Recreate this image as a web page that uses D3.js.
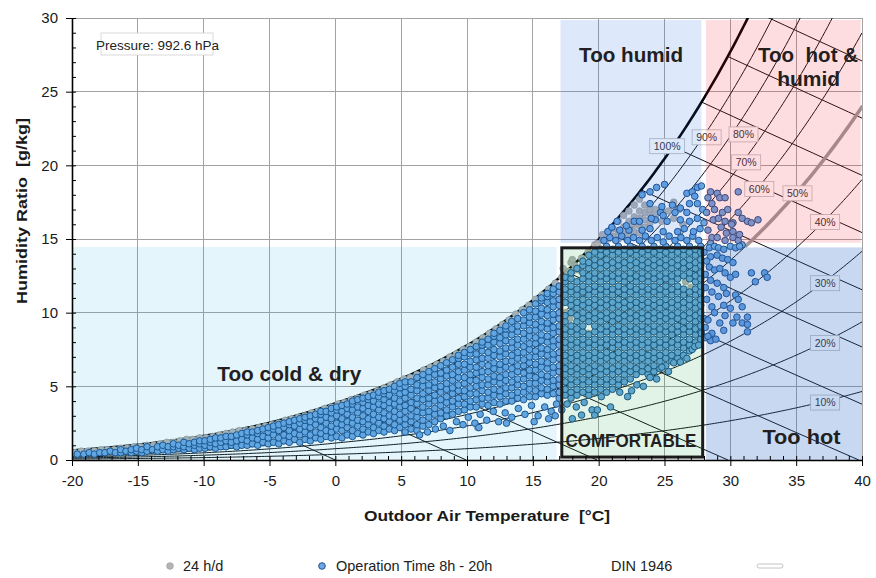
<!DOCTYPE html>
<html>
<head>
<meta charset="utf-8">
<title>Outdoor air conditions – psychrometric chart</title>
<script src="https://cdn.jsdelivr.net/npm/d3@7/dist/d3.min.js"></script>
<style>
  html, body { margin: 0; padding: 0; background: #fff; }
  svg text { font-family: "Liberation Sans", Arial, sans-serif; }
</style>
</head>
<body>
<svg id="chart" width="876" height="578"></svg>
<script>
// ---------------- chart values ----------------
const pressureHPa = 992.6;
const tempTicks = [-20, -15, -10, -5, 0, 5, 10, 15, 20, 25, 30, 35, 40];
const humidityTicks = [0, 5, 10, 15, 20, 25, 30];
const rhLevels = [10, 20, 30, 40, 50, 60, 70, 80, 90, 100];
const enthalpyLevels = [0, 10, 20, 30, 40, 50, 60, 70, 80, 90, 100, 110]; // kJ/kg
// relative-humidity tags: [RH %, temperature °C, humidity ratio g/kg]
const rhTags = [[100, 25.2, 21.3], [90, 28.2, 21.9], [80, 31.0, 22.1], [70, 31.2, 20.2], [60, 32.2, 18.4],
                [50, 35.1, 18.1], [40, 37.2, 16.15], [30, 37.2, 12.0], [20, 37.2, 7.95], [10, 37.2, 3.9]];
// comfort classification fields (°C, g/kg)
const zones = [
  { key: "cold",     t0: -20,   t1: 16.8, w0: 0,     w1: 14.46 },
  { key: "comfort",  t0: 17.2,  t1: 27.9, w0: 0.2,   w1: 14.4 },
  { key: "humid",    t0: 17.1,  t1: 27.8, w0: 14.75, w1: 29.86 },
  { key: "hotHumid", t0: 28.15, t1: 39.9, w0: 14.75, w1: 29.86 },
  { key: "hot",      t0: 28.15, t1: 40,   w0: 0,     w1: 14.43 }
];
const zoneLabels = [
  { text: "Too humid",        t: 22.46, w: 27.0 },
  { text: "Too\u00a0 hot &",  t: 35.9,  w: 27.0 },
  { text: "humid",            t: 35.95, w: 25.4 },
  { text: "Too cold & dry",   t: -3.5,  w: 5.36 },
  { text: "COMFORTABLE",      t: 22.45, w: 0.9 },
  { text: "Too hot",          t: 35.4,  w: 1.1 }
];

// hourly readings, 24 h/d  — rows: [temperature °C, humidity ratio g/kg, ...]
const allHoursEdge = [
  [-19.8,0.5],[-19.3,0.6],[-18.8,0.6],[-18.3,0.6],[-17.8,0.7],[-17.3,0.7],[-16.8,0.7],[-16.3,0.8],[-15.8,0.8],[-15.3,0.9],
  [-14.8,0.9],[-14.3,1.0],[-13.8,1.0],[-13.3,1.1],[-12.8,1.2],[-12.3,1.2],[-11.8,1.3],[-11.3,1.4],[-10.8,1.4],[-10.3,1.5],
  [-9.8,1.5],[-9.3,1.6],[-8.8,1.7],[-8.3,1.8],[-7.8,1.9],[-7.3,2.0],[-6.8,2.0],[-6.3,2.1],[-5.8,2.2],[-5.3,2.3],
  [-4.8,2.4],[-4.3,2.5],[-3.8,2.7],[-3.3,2.8],[-2.8,2.9],[-2.3,3.0],[-1.8,3.2],[-1.3,3.3],[-0.8,3.5],[-0.3,3.6],
  [0.2,3.8],[0.7,3.9],[1.2,4.1],[1.7,4.2],[2.2,4.4],[2.7,4.5],[3.2,4.7],[3.7,4.9],[4.2,5.1],[4.7,5.3],
  [5.2,5.5],[5.7,5.6],[6.2,5.8],[6.7,6.1],[7.2,6.3],[7.7,6.5],[8.2,6.7],[8.7,7.0],[9.2,7.2],[9.7,7.5],
  [10.2,7.7],[10.7,8.0],[11.2,8.3],[11.7,8.6],[12.2,8.9],[12.7,9.2],[13.2,9.5],[13.7,9.9],[14.2,10.2],[14.7,10.5],
  [15.2,10.9],[15.7,11.2],[16.2,11.6],[16.7,12.0],[17.2,12.4],[17.7,12.8],[18.2,13.2],[18.7,13.7],[19.2,14.1],[19.7,14.6],
  [10.5,7.5],[11.5,8.1],[12.5,8.7],[13.5,9.4],[14.5,10.0],[15.5,10.7],[16.5,11.4],[17.5,12.1],[18.5,12.9],[19.4,13.6]
];
const allHoursWarm = [
  [19.9,14.7],[20.3,14.9,15.3],[20.7,15.0,15.5],[21.1,15.2,15.7],[21.5,15.0,15.5,16.2],[21.9,15.3,15.8,16.6],
  [22.3,15.2,15.7,16.2,16.9],[22.7,15.5,16.0,16.5,17.3],[23.1,15.4,15.9,16.4,16.9,17.7],[23.5,15.8,16.3,16.8,17.3],
  [23.9,16.1,16.7,17.0],[24.3,16.5,17.0],[24.8,16.2],[25.3,16.9],[25.7,16.4,17.5],[26.1,17.0],[26.4,16.0]
];
const allHoursInner = [
  [17.3,13.0],[17.6,12.6],[17.9,13.4],[18.2,12.9],[18.0,13.6],[17.5,10.0],[17.8,9.6],[18.1,10.3],[19.2,8.6],[17.4,8.8],
  [18.6,11.2],[19.0,12.4],[20.5,10.6],[21.4,9.4],[22.6,12.5],[23.8,8.8],[19.8,6.1],[22.1,7.0],[25.3,11.9],[24.6,13.2],
  [26.4,9.8],[26.6,12.1],[27.0,11.7],[10.8,2.2],[1.1,1.8],[13.6,7.3],[12.2,5.9],[15.2,8.9],[8.5,4.7],[16.2,9.9],
  [4.6,3.6],[-2.6,2.1],[-8.2,1.2],[9.3,6.3],[14.9,10.0],[16.6,11.0],[11.8,7.6]
];

// hourly readings, operation time 8h - 20h
const opHoursFrost = [
  [-19.6,0.4],[-19.1,0.4],[-18.7,0.5],[-18.3,0.4],[-17.9,0.5],[-17.5,0.5],[-17.1,0.6],[-16.7,0.5],[-16.3,0.5,0.7],[-15.9,0.6],
  [-15.5,0.5,0.7],[-15.1,0.6,0.8],[-14.7,0.5,0.7],[-14.3,0.6,0.9],[-13.9,0.7],[-13.5,0.6,0.9],[-13.1,0.7,1.0],[-12.7,0.6,0.9],
  [-12.3,0.7,0.9,1.1],[-11.9,0.8,1.0],[-11.5,0.7,0.9,1.2],[-11.1,0.8,1.1],[-10.7,0.7,1.0,1.2],[-10.3,0.8,1.1,1.3],
  [-9.9,0.8,1.0,1.3],[-9.5,0.9,1.2,1.4],[-9.1,0.8,1.1,1.5],[-8.7,0.9,1.2,1.5],[-8.3,0.9,1.3,1.6],[-7.9,1.0,1.2,1.6],
  [-7.5,0.9,1.3,1.7],[-7.1,1.0,1.4,1.8],[-6.7,1.0,1.3,1.7,1.9],[-6.3,1.1,1.5,1.9],[-5.9,1.0,1.4,1.8,2.0],[-5.5,1.2,1.6,2.1],
  [-5.1,1.1,1.5,1.9,2.2]
];
const opHoursCool = [
  [-4.7,1.2,1.7,2.1,2.3],[-4.3,1.1,1.5,2.0,2.4],[-3.9,1.3,1.7,2.2,2.5],[-3.5,1.2,1.6,2.0,2.4,2.6],[-3.1,1.4,1.8,2.3,2.7],
  [-2.7,1.2,1.7,2.1,2.5,2.8],[-2.3,1.4,1.9,2.3,2.7,2.9],[-1.9,1.3,1.7,2.2,2.6,3.0],[-1.5,1.5,1.9,2.4,2.8,3.1],
  [-1.1,1.4,1.8,2.2,2.7,3.1,3.3],[-0.7,1.6,2.0,2.5,2.9,3.3],[-0.3,1.5,1.9,2.3,2.8,3.2,3.5],[0.1,1.6,2.1,2.5,3.0,3.4,3.6],
  [0.5,1.5,2.0,2.4,2.8,3.3,3.7],[0.9,1.7,2.2,2.6,3.1,3.5,3.8],[1.3,1.6,2.0,2.5,2.9,3.4,3.8,4.0],[1.7,1.8,2.3,2.7,3.2,3.6,4.1],
  [2.1,1.7,2.1,2.6,3.0,3.5,3.9,4.2],[2.5,1.9,2.4,2.8,3.3,3.7,4.1,4.3],[2.9,1.8,2.2,2.7,3.1,3.6,4.0,4.4],
  [3.3,2.0,2.5,2.9,3.4,3.8,4.3,4.6],[3.7,1.9,2.3,2.8,3.2,3.7,4.1,4.5,4.7],[4.1,2.1,2.6,3.0,3.5,3.9,4.4,4.8],
  [4.5,2.0,2.4,2.9,3.3,3.8,4.2,4.7,5.0],[4.9,2.2,2.7,3.1,3.6,4.0,4.5,4.9,5.2]
];
const opHoursMild = [
  [5.3,1.9,2.4,2.8,3.3,3.7,4.2,4.6,5.0,5.3],[5.75,2.1,2.6,3.0,3.5,3.9,4.4,4.8,5.3],[6.2,2.0,2.4,2.9,3.3,3.8,4.2,4.7,5.1,5.6],
  [6.65,2.3,2.7,3.2,3.6,4.1,4.5,5.0,5.4,5.8],[7.1,2.4,2.9,3.3,3.8,4.2,4.7,5.1,5.6,6.0],[7.55,2.6,3.1,3.5,4.0,4.4,4.9,5.3,5.8,6.2],
  [8.0,2.8,3.2,3.7,4.1,4.6,5.0,5.5,5.9,6.4],[8.45,3.0,3.4,3.9,4.3,4.8,5.2,5.7,6.1,6.6],[8.9,3.1,3.6,4.0,4.5,4.9,5.4,5.8,6.3,6.8],
  [9.35,3.3,3.8,4.2,4.7,5.1,5.6,6.0,6.5,6.9,7.1],[9.8,3.4,3.8,4.3,4.7,5.2,5.6,6.1,6.5,7.0,7.3],
  [10.25,3.6,4.0,4.5,4.9,5.4,5.8,6.3,6.7,7.2,7.5],[10.7,3.6,4.1,4.5,5.0,5.4,5.9,6.3,6.8,7.2,7.7],
  [11.15,3.8,4.2,4.7,5.1,5.6,6.0,6.5,6.9,7.4,7.8,8.0],[11.6,3.7,4.2,4.6,5.1,5.5,6.0,6.4,6.9,7.3,7.8,8.2],
  [12.05,3.9,4.4,4.8,5.3,5.7,6.2,6.6,7.1,7.5,8.0,8.4,8.6],[12.5,3.8,4.3,4.7,5.2,5.6,6.1,6.5,7.0,7.4,7.9,8.3,8.8],
  [12.95,4.0,4.5,4.9,5.4,5.8,6.3,6.7,7.2,7.6,8.1,8.5,8.9,9.1],[13.4,4.0,4.4,4.9,5.3,5.8,6.2,6.7,7.1,7.6,8.0,8.5,8.9,9.4],
  [13.85,4.2,4.6,5.1,5.5,6.0,6.4,6.9,7.3,7.8,8.2,8.7,9.1,9.6],[14.3,4.1,4.6,5.0,5.5,5.9,6.4,6.8,7.3,7.7,8.2,8.6,9.1,9.5,10.0],
  [14.75,4.3,4.8,5.2,5.7,6.1,6.6,7.0,7.5,7.9,8.4,8.8,9.3,9.7,10.2],
  [15.2,4.3,4.7,5.2,5.6,6.1,6.5,7.0,7.4,7.9,8.3,8.8,9.2,9.7,10.1,10.6],
  [15.65,4.5,4.9,5.4,5.8,6.3,6.7,7.2,7.6,8.1,8.5,9.0,9.4,9.9,10.3,10.8,11.0],
  [16.1,4.4,4.8,5.3,5.7,6.2,6.6,7.1,7.5,8.0,8.4,8.9,9.3,9.8,10.2,10.7,11.1,11.3],
  [16.55,4.5,5.0,5.4,5.9,6.3,6.8,7.2,7.7,8.1,8.6,9.0,9.5,9.9,10.4,10.8,11.3,11.6]
];
const opHoursMildLow = [
  [6.4,1.7],[7.0,1.9],[7.6,2.1],[8.2,2.3],[8.7,2.0],[9.2,2.6],[9.7,2.4],[10.1,2.9],[10.6,2.5],[11.0,3.1],[11.5,2.7],
  [12.0,3.3],[12.4,2.6],[12.9,3.2],[13.4,2.9],[13.9,3.5],[14.4,3.1],[14.9,3.7],[15.4,3.0],[15.9,3.6],[16.4,3.3],
  [16.8,3.8],[10.9,2.2],[13.0,2.5],[15.1,2.6],[16.2,2.8],[16.7,3.0]
];
const opHoursComfort = [
  [17.0,4.2,4.6,5.1,5.5,6.0,6.4,6.9,7.3,7.8,8.2,8.7,9.1,9.6,10.0,10.5,10.9,11.4,11.8],
  [17.45,4.4,4.8,5.3,5.8,6.2,6.7,7.1,7.6,8.0,8.5,8.9,9.4,9.8,10.7,11.2,11.6,12.1,12.4],
  [17.9,4.2,4.6,5.1,5.5,6.0,6.4,6.9,7.3,7.8,8.2,8.7,9.1,10.0,10.5,10.9,11.4,11.8,12.3,12.7],
  [18.35,4.4,4.8,5.3,5.8,6.2,6.7,7.1,7.6,8.0,8.5,8.9,9.4,9.8,10.3,10.7,11.2,11.6,12.1,13.0],
  [18.8,4.6,5.1,5.5,6.0,6.4,6.9,7.3,7.8,8.2,8.7,9.1,9.6,10.0,10.5,10.9,11.4,11.8,12.3,12.7,13.2,13.5],
  [19.25,4.4,4.8,5.3,5.8,6.2,6.7,7.1,7.6,8.0,8.5,9.4,9.8,10.3,10.7,11.2,11.6,12.1,12.5,13.0,13.4,13.9],
  [19.7,4.6,5.1,5.5,6.0,6.4,6.9,7.3,7.8,8.2,8.7,9.1,9.6,10.0,10.5,10.9,11.4,11.8,12.3,12.7,13.2,13.6,14.1],
  [20.15,4.8,5.3,5.8,6.2,6.7,7.1,7.6,8.0,8.5,8.9,9.4,9.8,10.3,10.7,11.2,11.6,12.1,12.5,13.0,13.4,13.9,14.3],
  [20.6,4.6,5.1,5.5,6.0,6.4,6.9,7.3,7.8,8.2,8.7,9.1,9.6,10.0,10.5,10.9,11.4,11.8,12.3,12.7,13.2,13.6,14.1,14.5],
  [21.05,4.8,5.3,5.8,6.2,6.7,7.1,7.6,8.0,8.5,8.9,9.4,9.8,10.3,10.7,11.2,11.6,12.1,12.5,13.0,13.4,13.9,14.3],
  [21.5,5.1,5.5,6.0,6.4,6.9,7.3,7.8,8.2,8.7,9.1,9.6,10.0,10.5,10.9,11.4,11.8,12.3,12.7,13.2,13.6,14.1,14.5],
  [21.95,5.3,5.8,6.2,6.7,7.1,7.6,8.0,8.5,8.9,9.4,9.8,10.3,10.7,11.2,11.6,12.1,12.5,13.0,13.4,13.9,14.3],
  [22.4,5.5,6.0,6.4,6.9,7.3,7.8,8.2,8.7,9.1,9.6,10.0,10.5,10.9,11.4,11.8,12.3,12.7,13.2,13.6,14.1,14.5],
  [22.85,5.8,6.2,6.7,7.1,7.6,8.0,8.5,8.9,9.4,9.8,10.3,10.7,11.2,11.6,12.1,12.5,13.0,13.4,13.9,14.3],
  [23.3,6.0,6.4,6.9,7.3,7.8,8.2,8.7,9.1,9.6,10.0,10.5,10.9,11.4,11.8,12.3,12.7,13.2,13.6,14.1,14.5],
  [23.75,5.8,6.2,6.7,7.1,7.6,8.0,8.5,8.9,9.4,9.8,10.3,10.7,11.2,11.6,12.1,12.5,13.0,13.4,13.9,14.3],
  [24.2,6.0,6.4,6.9,7.3,7.8,8.2,8.7,9.1,9.6,10.0,10.5,10.9,11.4,11.8,12.3,12.7,13.2,13.6,14.1,14.5],
  [24.65,6.2,6.7,7.1,7.6,8.0,8.5,8.9,9.4,9.8,10.3,10.7,11.2,11.6,12.1,12.5,13.0,13.4,13.9,14.3],
  [25.1,6.4,6.9,7.3,7.8,8.2,8.7,9.1,9.6,10.0,10.5,10.9,11.4,11.8,12.3,12.7,13.2,13.6,14.1,14.5],
  [25.55,6.7,7.1,7.6,8.0,8.5,8.9,9.4,9.8,10.3,10.7,11.2,11.6,12.1,12.5,13.0,13.4,13.9,14.3],
  [26.0,6.9,7.3,7.8,8.2,8.7,9.1,9.6,10.0,10.5,10.9,11.4,11.8,12.3,12.7,13.2,13.6,14.1,14.5],
  [26.45,7.1,7.6,8.0,8.5,8.9,9.4,9.8,10.3,10.7,11.2,11.6,12.5,13.0,13.4,13.9,14.3],
  [26.9,7.4,7.8,8.2,8.7,9.1,9.6,10.0,10.5,10.9,11.4,12.3,12.7,13.2,13.6,14.1,14.5],
  [27.35,8.0,8.5,8.9,9.4,9.8,10.3,10.7,11.2,11.6,12.1,12.5,13.0,13.4,13.9,14.3],
  [27.75,8.2,8.7,9.1,9.6,10.0,10.5,10.9,11.4,11.8,12.3,12.7,13.2,13.6,14.1,14.5]
];
const opHoursComfortLow = [
  [17.2,3.4],[17.6,3.8],[18.0,2.8],[18.3,3.6],[18.7,3.05],[18.9,3.9],[19.5,3.4],[19.7,3.05],[19.9,3.4],[20.2,4.3],
  [20.9,3.6],[21.6,4.6],[22.2,4.3],[22.5,4.7],[22.9,5.1],[23.4,5.0],[23.9,5.6],[24.4,5.5],[24.8,6.3],[25.3,6.0],
  [25.7,6.6],[26.2,6.65],[26.7,6.9],[27.1,7.5],[27.3,7.7],[27.6,7.8]
];
const opHoursHumid = [
  [20.4,14.9],[20.85,15.1],[21.3,14.9],[21.75,15.2],[22.2,14.9],[22.65,15.1],[23.1,14.9],[23.55,15.2],[24.0,14.9],
  [24.45,15.1],[24.9,14.8],[25.35,15.2],[25.8,14.9],[26.25,15.1],[26.7,14.9],[27.15,15.2],[27.6,14.9],
  [20.7,15.5],[21.6,15.6],[22.3,15.6],[23.3,15.6],[23.9,15.7],[24.9,15.5],[26.0,15.5],[26.5,15.7],[27.2,15.5],[27.7,15.7],
  [21.4,16.2],[22.7,16.2],[23.1,16.2],[23.3,18.0],[23.9,17.4],[23.9,18.2],[24.3,16.3],[24.4,18.5],[24.7,16.8],[24.8,17.2],
  [25.0,18.7],[25.2,16.2],[25.6,17.3],[25.8,16.8],[26.2,16.3],[26.2,17.1],[26.7,16.8],[26.7,18.1],[26.9,16.2],[26.9,17.4],
  [27.1,18.2],[27.3,17.9],[27.5,16.4],[27.5,17.4],[27.5,18.5],[27.8,18.6],[27.9,17.0],[28.0,16.1],[24.0,16.4],[24.9,16.6],
  [22.1,15.9],[21.0,15.8]
];
const opHoursHot = [
  [28.5,18.2],[29.0,18.1],[29.2,17.8],[29.6,17.8],[28.6,17.4],[28.8,17.0],[29.4,16.8],[29.8,17.0],[28.7,16.3],[29.1,16.4],
  [30.6,16.8],[30.9,16.4],[31.3,16.2],[31.6,16.1],[32.1,16.3],[30.2,16.1],[30.6,18.2],[29.7,15.4],[30.2,15.5],[28.6,15.1],
  [29.0,15.1],[29.6,14.9],[30.2,15.1],[30.6,14.9],[30.9,14.6],[28.5,14.7],[28.3,15.6],[29.3,15.8],[28.2,16.8],[28.3,17.8],
  [30.7,15.3],[29.6,16.2],[30.1,16.0],
  [28.4,14.4],[28.8,14.5],[29.1,14.4],[29.5,14.3],[30.0,14.5],[30.4,14.4],[30.7,14.5],[28.5,13.8],[29.0,13.9],[29.4,13.7],
  [29.8,13.6],[30.2,13.4],[28.4,13.1],[28.8,12.9],[29.2,13.0],[29.6,12.7],[30.0,12.4],[30.4,12.6],[31.6,12.7],[32.6,12.7],
  [31.9,12.1],[32.8,12.4],[28.5,12.2],[29.0,12.0],[29.5,11.7],[28.6,11.4],[29.1,11.1],[29.7,11.3],[30.4,11.2],[30.6,10.9],
  [28.6,10.4],[29.5,10.5],[30.0,10.3],[30.9,10.4],[31.3,9.7],[30.5,9.7],[29.6,9.8],[28.8,10.0],[29.2,9.3],[30.2,9.3],
  [30.9,9.3],[31.3,9.2],[31.3,8.7],[28.6,8.6],[29.5,8.8],[28.1,8.3],[28.5,8.1],[27.8,8.6],[28.3,8.4],[28.9,8.2],
  [28.1,9.0],[28.2,10.9],[28.1,12.6],[28.2,13.5],[28.0,14.1],[28.1,11.7],[28.0,9.6],[28.3,9.5]
];

// ---------------- psychrometric relations ----------------
function satPressure(t) { // hPa, over ice below 0 °C
  return t < 0 ? 6.112 * Math.exp(22.46 * t / (272.62 + t)) : 6.112 * Math.exp(17.62 * t / (243.12 + t));
}
function ratioAtRH(t, rh) { // g/kg
  const pw = rh / 100 * satPressure(t);
  return 622 * pw / (pressureHPa - pw);
}
function ratioAtEnthalpy(h, t) { // g/kg
  return 1000 * (h - 1.006 * t) / (2501 + 1.86 * t);
}
function saturationTemp(h) {
  let lo = -40, hi = 60;
  for (let i = 0; i < 60; i++) {
    const m = (lo + hi) / 2;
    if (ratioAtEnthalpy(h, m) > ratioAtRH(m, 100)) lo = m; else hi = m;
  }
  return (lo + hi) / 2;
}

// ---------------- layout ----------------
const svg = d3.select("#chart");
const x = d3.scaleLinear().domain([-20, 40]).range([72, 862]);
const y = d3.scaleLinear().domain([0, 30]).range([460, 18]);
const line = d3.line().x(d => x(d[0])).y(d => y(d[1]));

svg.append("rect").attr("width", 876).attr("height", 578).attr("fill", "#fff");
svg.append("defs").append("clipPath").attr("id", "plotClip").append("rect")
  .attr("x", x(-20)).attr("y", y(30)).attr("width", x(40) - x(-20)).attr("height", y(0) - y(30));

// grid
const grid = svg.append("g").attr("stroke", "#a3a3a3").attr("stroke-width", 1).attr("shape-rendering", "crispEdges");
grid.selectAll("line.v").data(tempTicks.slice(1)).join("line").attr("class", "v")
  .attr("x1", d => x(d)).attr("x2", d => x(d)).attr("y1", y(0)).attr("y2", y(30));
grid.selectAll("line.h").data(humidityTicks.slice(1)).join("line").attr("class", "h")
  .attr("x1", x(-20)).attr("x2", x(40)).attr("y1", d => y(d)).attr("y2", d => y(d));

// psychrometric lines
const psy = svg.append("g").attr("clip-path", "url(#plotClip)").attr("fill", "none");
function rhCurve(rh, tStart) {
  const pts = [];
  for (let t = tStart; t <= 40.0001; t += 0.2) {
    const w = ratioAtRH(t, rh);
    pts.push([t, w]);
    if (w > 30.5) break;
  }
  return pts;
}
enthalpyLevels.forEach(h => {
  const ts = saturationTemp(h);
  const te = Math.min(40, h / 1.006);
  const pts = d3.range(0, 11).map(i => { const t = ts + (te - ts) * i / 10; return [t, ratioAtEnthalpy(h, t)]; });
  psy.append("path").attr("d", line(pts)).attr("stroke", "#111").attr("stroke-width", 1);
});
rhLevels.filter(r => r < 100).forEach(rh => {
  psy.append("path").attr("d", line(rhCurve(rh, -20))).attr("stroke", "#111").attr("stroke-width", 1);
});
// DIN 1946 limit along 50 % RH
psy.append("path").attr("d", line(rhCurve(50, -20).filter(d => d[1] >= 14.45)))
  .attr("stroke", "#9c9c9c").attr("stroke-width", 3.5).attr("stroke-linecap", "round");
psy.append("path").attr("d", line(rhCurve(100, -20))).attr("stroke", "#000").attr("stroke-width", 2.6);

// RH tags
const tags = svg.append("g");
rhTags.forEach(([rh, t, w]) => {
  const g = tags.append("g").attr("transform", `translate(${x(t)},${y(w)})`);
  const txt = g.append("text").attr("text-anchor", "middle").attr("dy", "0.35em")
    .attr("font-size", 10.5).attr("fill", "#333").text(rh + "%");
  const bb = txt.node().getBBox();
  g.insert("rect", "text").attr("x", bb.x - 4).attr("y", -7.5).attr("width", bb.width + 8).attr("height", 15)
    .attr("fill", "#fff").attr("stroke", "#bcbcbc").attr("stroke-width", 0.8);
});

// measured hours
function expand(rows) {
  const out = [];
  rows.forEach(r => { for (let i = 1; i < r.length; i++) out.push([r[0], r[i]]); });
  return out;
}
const greyPoints = expand([...allHoursEdge, ...allHoursWarm, ...allHoursInner]);
const bluePoints = expand([...opHoursFrost, ...opHoursCool, ...opHoursMild, ...opHoursMildLow,
  ...opHoursComfort, ...opHoursComfortLow, ...opHoursHumid, ...opHoursHot]);
const dots = svg.append("g").attr("clip-path", "url(#plotClip)");
dots.append("g").selectAll("circle").data(greyPoints).join("circle")
  .attr("cx", d => x(d[0])).attr("cy", d => y(d[1])).attr("r", 3.3)
  .attr("fill", "#b4b4b4").attr("stroke", "#9f9f9f").attr("stroke-width", 0.8);
dots.append("g").selectAll("circle").data(bluePoints).join("circle")
  .attr("cx", d => x(d[0])).attr("cy", d => y(d[1])).attr("r", 3.3)
  .attr("fill", "#6ca7e1").attr("stroke", "#1f5088").attr("stroke-width", 1);

// comfort fields (tinted overlays)
const zoneFill = {
  cold: "rgba(0,155,225,0.10)", comfort: "rgba(0,155,47,0.12)", humid: "rgba(28,102,228,0.15)",
  hotHumid: "rgba(242,28,48,0.15)", hot: "rgba(39,99,199,0.25)"
};
svg.append("g").selectAll("rect").data(zones).join("rect")
  .attr("x", d => x(d.t0)).attr("y", d => y(d.w1))
  .attr("width", d => x(d.t1) - x(d.t0)).attr("height", d => y(d.w0) - y(d.w1))
  .attr("fill", d => zoneFill[d.key]);
const cz = zones.find(z => z.key === "comfort");
svg.append("rect").attr("x", x(cz.t0)).attr("y", y(cz.w1)).attr("width", x(cz.t1) - x(cz.t0))
  .attr("height", y(cz.w0) - y(cz.w1)).attr("fill", "none").attr("stroke", "#1c1c1c").attr("stroke-width", 3);

// axes
const fmt = d => String(d);
const minorX = svg.append("g").attr("transform", `translate(0,${y(0)})`)
  .call(d3.axisBottom(x).ticks(60).tickSize(-4).tickFormat(""));
minorX.select(".domain").remove();
const minorY = svg.append("g").attr("transform", `translate(${x(-20)},0)`)
  .call(d3.axisLeft(y).ticks(30).tickSize(-4).tickFormat(""));
minorY.select(".domain").remove();
const xAxis = svg.append("g").attr("transform", `translate(0,${y(0)})`)
  .call(d3.axisBottom(x).tickValues(tempTicks).tickSize(6).tickSizeOuter(0).tickPadding(9).tickFormat(fmt));
const yAxis = svg.append("g").attr("transform", `translate(${x(-20)},0)`)
  .call(d3.axisLeft(y).tickValues(humidityTicks).tickSize(6).tickSizeOuter(0).tickPadding(8).tickFormat(fmt));
[minorX, minorY, xAxis, yAxis].forEach(a => a.selectAll("line").attr("stroke", "#000"));
[xAxis, yAxis].forEach(a => {
  a.select(".domain").attr("stroke", "#000").attr("stroke-width", 1.6);
  a.selectAll("text").attr("font-size", 15).attr("fill", "#1a1a1a")
    .attr("font-family", "'Liberation Sans', Arial, sans-serif");
});

// axis titles
svg.append("text").attr("x", 487).attr("y", 521).attr("text-anchor", "middle")
  .attr("font-size", 15).attr("font-weight", "bold").attr("fill", "#1a1a1a")
  .attr("textLength", 246).attr("lengthAdjust", "spacingAndGlyphs")
  .text("Outdoor Air Temperature\u00a0 [°C]");
svg.append("text").attr("transform", "translate(27,211) rotate(-90)").attr("text-anchor", "middle")
  .attr("font-size", 15).attr("font-weight", "bold").attr("fill", "#1a1a1a")
  .attr("textLength", 186).attr("lengthAdjust", "spacingAndGlyphs")
  .text("Humidity Ratio\u00a0 [g/kg]");

// field names
const labelSize = { "COMFORTABLE": 18 };
const labelWidth = { "Too humid": 104, "Too\u00a0 hot &": 100, "humid": 63, "Too cold & dry": 144, "COMFORTABLE": 131, "Too hot": 78 };
svg.append("g").selectAll("text").data(zoneLabels).join("text")
  .attr("x", d => x(d.t)).attr("y", d => y(d.w)).attr("text-anchor", "middle")
  .attr("font-family", "Lato, 'DejaVu Sans', sans-serif").attr("font-weight", 700)
  .attr("font-size", d => labelSize[d.text] || 21).attr("fill", "#231f20")
  .attr("textLength", d => labelWidth[d.text]).attr("lengthAdjust", "spacingAndGlyphs")
  .text(d => d.text);

// pressure note
svg.append("rect").attr("x", 101).attr("y", 33).attr("width", 112).attr("height", 22)
  .attr("fill", "#fff").attr("stroke", "#d0d0d0").attr("stroke-width", 0.8);
svg.append("text").attr("x", 96).attr("y", 50).attr("font-size", 13.5).attr("fill", "#222")
  .text(`Pressure: ${pressureHPa} hPa`);

// legend
const lg = svg.append("g");
lg.append("circle").attr("cx", 170).attr("cy", 566).attr("r", 3.3).attr("fill", "#b4b4b4").attr("stroke", "#9f9f9f").attr("stroke-width", 0.8);
lg.append("text").attr("x", 183).attr("y", 571).attr("font-size", 14.5).attr("fill", "#222").text("24 h/d");
lg.append("circle").attr("cx", 322).attr("cy", 566).attr("r", 3.3).attr("fill", "#6ca7e1").attr("stroke", "#1f5088").attr("stroke-width", 1);
lg.append("text").attr("x", 336).attr("y", 571).attr("font-size", 14.5).attr("fill", "#222").text("Operation Time 8h - 20h");
lg.append("text").attr("x", 611).attr("y", 571).attr("font-size", 14.5).attr("fill", "#222").text("DIN 1946");
lg.append("rect").attr("x", 757).attr("y", 564).attr("width", 26).attr("height", 4).attr("rx", 2)
  .attr("fill", "#fff").attr("stroke", "#c4c4c4").attr("stroke-width", 1);
</script>
</body>
</html>
